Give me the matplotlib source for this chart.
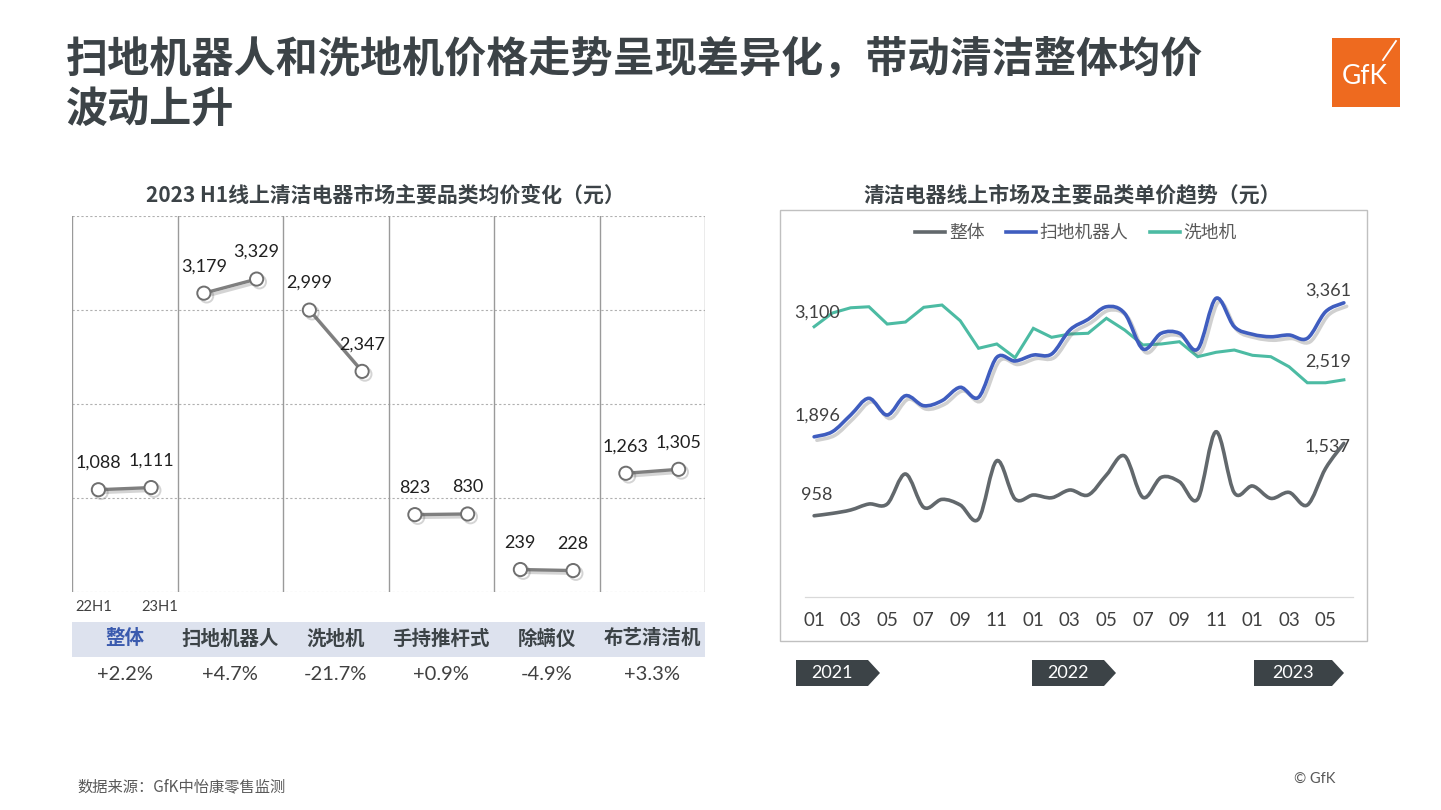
#均价走势 - 清洁电器
import numpy as np
import matplotlib
matplotlib.use('Agg')
import matplotlib.pyplot as plt
from matplotlib.path import Path
from matplotlib.patches import PathPatch, Rectangle, Polygon
from matplotlib.lines import Line2D
import matplotlib.patheffects as pe

plt.rcParams['font.family'] = ['Noto Sans CJK SC', 'DejaVu Sans']

# --- datos: panel izquierdo ---
categorias = ['整体', '扫地机器人', '洗地机', '手持推杆式', '除螨仪', '布艺清洁机']
precio_22h1 = [1088, 3179, 2999, 823, 239, 1263]
precio_23h1 = [1111, 3329, 2347, 830, 228, 1305]
cambio = ['+2.2%', '+4.7%', '-21.7%', '+0.9%', '-4.9%', '+3.3%']
periodos = ['22H1', '23H1']

# --- datos: panel derecho (2021-01 .. 2023-06, mensual) ---
meses = ['01', '03', '05', '07', '09', '11', '01', '03', '05', '07', '09', '11', '01', '03', '05']
anios = ['2021', '2022', '2023']
total = [958, 977, 1004, 1052, 1052, 1292, 1025, 1089, 1044, 932, 1398, 1092, 1124, 1102, 1164,
         1124, 1284, 1436, 1105, 1265, 1230, 1092, 1630, 1142, 1196, 1097, 1145, 1044, 1337, 1537]
robot = [1896, 1952, 2134, 2317, 2134, 2345, 2236, 2291, 2437, 2328, 2765, 2725, 2790, 2801, 3064,
         3181, 3318, 3246, 2856, 3028, 3028, 2856, 3410, 3100, 3017, 2990, 3009, 2973, 3264, 3361]
lavadora = [3100, 3250, 3307, 3318, 3129, 3151, 3312, 3337, 3165, 2864, 2911, 2761, 3082, 2984, 3020,
            3028, 3192, 3064, 2900, 2911, 2936, 2772, 2820, 2845, 2787, 2772, 2662, 2487, 2487, 2519]

W, H = 1441, 810
OSCURO = '#3c4347'
TEXTO = '#404040'
GRIS = '#62686c'
AZUL = '#3f5dbf'
VERDE = '#4cbba3'


def rect(x0, y0, x1, y1):
    # pixeles -> coordenadas de figura
    return [x0 / W, 1 - y1 / H, (x1 - x0) / W, (y1 - y0) / H]


def suave(xs, ys):
    # linea suavizada estilo Excel (Catmull-Rom -> Bezier)
    p = np.column_stack([xs, ys]).astype(float)
    n = len(p)
    verts, codes = [p[0]], [Path.MOVETO]
    for i in range(n - 1):
        p0 = p[i - 1] if i > 0 else p[i]
        p3 = p[i + 2] if i + 2 < n else p[i + 1]
        verts += [p[i] + (p[i + 1] - p0) / 6, p[i + 1] - (p3 - p[i]) / 6, p[i + 1]]
        codes += [Path.CURVE4] * 3
    return Path(verts, codes)


fig = plt.figure(figsize=(W / 100, H / 100), dpi=100)
fig.patch.set_facecolor('white')

# --- titulo ---
fig.text(66 / W, 1 - 60 / H, '扫地机器人和洗地机价格走势呈现差异化，带动清洁整体均价',
         fontsize=30.3, weight='black', color=OSCURO, va='center', ha='left')
fig.text(66 / W, 1 - 110 / H, '波动上升', fontsize=30.3, weight='black', color=OSCURO,
         va='center', ha='left')

# logo GfK
fig.patches.append(Rectangle((1332 / W, 1 - 107 / H), 68 / W, 69 / H, transform=fig.transFigure,
                             facecolor='#ee6a1f', edgecolor='none'))
fig.text(1365 / W, 1 - 76 / H, 'GfK', fontsize=19, color='white', ha='center', va='center',
         family='Lato')
fig.lines.append(Line2D([1383 / W, 1396 / W], [1 - 60 / H, 1 - 41 / H], transform=fig.transFigure,
                        color='white', lw=1.3))

# --- panel izquierdo ---
fig.text(385 / W, 1 - 195 / H, '2023 H1线上清洁电器市场主要品类均价变化（元）', fontsize=15,
         weight='bold', color=OSCURO, ha='center', va='center')

ax1 = fig.add_axes(rect(72, 216, 705, 592))
ax1.set_xlim(0, 6)
ax1.set_ylim(0, 4000)
for y in [0, 1000, 2000, 3000, 4000]:
    ax1.axhline(y, color='#b0b0b0', lw=0.8, ls=(0, (2, 2)), zorder=1)
for x in range(7):
    ax1.axvline(x, color='#9a9a9a', lw=1.0, zorder=1)
for s in ax1.spines.values():
    s.set_visible(False)
ax1.set_xticks([])
ax1.set_yticks([])

sombra = [pe.SimpleLineShadow(offset=(2, -2), alpha=0.25, shadow_color='#555555'), pe.Normal()]
for i in range(len(categorias)):
    xs = [i + 0.25, i + 0.75]
    ys = [precio_22h1[i], precio_23h1[i]]
    ax1.plot(xs, ys, color='#7f7f7f', lw=2.4, marker='o', markersize=9.5,
             markerfacecolor='white', markeredgecolor='#6f6f6f', markeredgewidth=1.4,
             zorder=3, path_effects=sombra)
    for x, y in zip(xs, ys):
        ax1.annotate(f'{y:,}', (x, y), xytext=(0, 27), textcoords='offset pixels',
                     ha='center', va='center', fontsize=13, color='#202020', family='Lato')

for x, p in zip([0.21, 0.83], periodos):
    ax1.text(x, -0.04, p, transform=ax1.get_xaxis_transform(), ha='center', va='center',
             fontsize=10.5, color=TEXTO, family='Lato')

fig.patches.append(Rectangle((72 / W, 1 - 657 / H), (705 - 72) / W, 35 / H,
                             transform=fig.transFigure, facecolor='#dde2ee', edgecolor='none'))
for i, (c, v) in enumerate(zip(categorias, cambio)):
    xc = (72 + (i + 0.5) * (705 - 72) / 6) / W
    fig.text(xc, 1 - 639 / H, c, fontsize=14, weight='bold',
             color='#3a5aae' if i == 0 else OSCURO, ha='center', va='center')
    fig.text(xc, 1 - 674 / H, v, fontsize=14.5, color=TEXTO, ha='center', va='center',
             family='Lato')

# --- panel derecho ---
fig.text(1072 / W, 1 - 195 / H, '清洁电器线上市场及主要品类单价趋势（元）', fontsize=15,
         weight='bold', color=OSCURO, ha='center', va='center')
fig.patches.append(Rectangle((780 / W, 1 - 641 / H), (1367 - 780) / W, (641 - 210) / H,
                             transform=fig.transFigure, facecolor='none', edgecolor='#c0c0c0',
                             lw=1.0))

ax2 = fig.add_axes(rect(805, 253, 1353, 597))
ax3 = ax2.twinx()
n = len(total)
x = np.arange(n)
ax2.set_xlim(-0.5, n - 0.5)
ax2.set_ylim(144, 3906)
ax3.set_ylim(308, 3060)
ax2.patch.set_visible(False)

ax2.plot(x, lavadora, color=VERDE, lw=2.2, solid_joinstyle='miter', zorder=3)
ax2.add_patch(PathPatch(suave(x, robot), fill=False, edgecolor=AZUL, lw=2.6, capstyle='round',
                        zorder=4,
                        path_effects=[pe.SimpleLineShadow(offset=(2, -2.5), alpha=0.3,
                                                          shadow_color='#666666'), pe.Normal()]))
ax3.add_patch(PathPatch(suave(x, total), fill=False, edgecolor=GRIS, lw=2.6, capstyle='round',
                        zorder=4))

for s in ['top', 'left', 'right']:
    ax2.spines[s].set_visible(False)
    ax3.spines[s].set_visible(False)
ax3.spines['bottom'].set_visible(False)
ax2.spines['bottom'].set_color('#d9d9d9')
ax2.spines['bottom'].set_linewidth(0.9)
ax2.set_yticks([])
ax3.set_yticks([])
ax2.set_xticks(range(0, n, 2))
ax2.set_xticklabels(meses, fontsize=13.5, color=TEXTO, family='Lato')
ax2.tick_params(axis='x', length=0, pad=11)

kw = dict(textcoords='offset pixels', ha='center', va='center', fontsize=13, color=TEXTO,
          family='Lato')
ax2.annotate(f'{lavadora[0]:,}', (0, lavadora[0]), xytext=(3, 14), **kw)
ax2.annotate(f'{robot[0]:,}', (0, robot[0]), xytext=(3, 21), **kw)
ax3.annotate(f'{total[0]:,}', (0, total[0]), xytext=(3, 21), **kw)
ax2.annotate(f'{robot[-1]:,}', (n - 1, robot[-1]), xytext=(-16, 12), **kw)
ax2.annotate(f'{lavadora[-1]:,}', (n - 1, lavadora[-1]), xytext=(-16, 18), **kw)
ax3.annotate(f'{total[-1]:,}', (n - 1, total[-1]), xytext=(-16, -3), **kw)

handles = [Line2D([], [], color=GRIS, lw=2.6), Line2D([], [], color=AZUL, lw=2.6),
           Line2D([], [], color=VERDE, lw=2.6)]
fig.legend(handles, ['整体', '扫地机器人', '洗地机'], loc='center',
           bbox_to_anchor=(1076 / W, 1 - 233 / H), ncol=3, frameon=False, fontsize=12.8,
           handlelength=1.7, handletextpad=0.2, columnspacing=1.2, labelcolor='#595959')

# flechas de anio
for anio, (x0, x1) in zip(anios, [(796, 880), (1032, 1116), (1254, 1344)]):
    pts = [(x0, 660), (x1 - 12, 660), (x1, 673), (x1 - 12, 686), (x0, 686)]
    fig.patches.append(Polygon([(a / W, 1 - b / H) for a, b in pts], closed=True,
                               transform=fig.transFigure, facecolor=OSCURO, edgecolor='none'))
    fig.text((x0 + x1 - 12) / 2 / W, 1 - 673 / H, anio, color='white', fontsize=13,
             ha='center', va='center', family='Lato')

# pie
fig.text(77 / W, 1 - 787 / H, '数据来源：GfK中怡康零售监测', fontsize=11, color='#595959',
         ha='left', va='center')
fig.text(1294 / W, 1 - 779 / H, '© GfK', fontsize=10.5, color='#595959', ha='left', va='center',
         family='Lato')

fig.savefig('out.png', dpi=100)
